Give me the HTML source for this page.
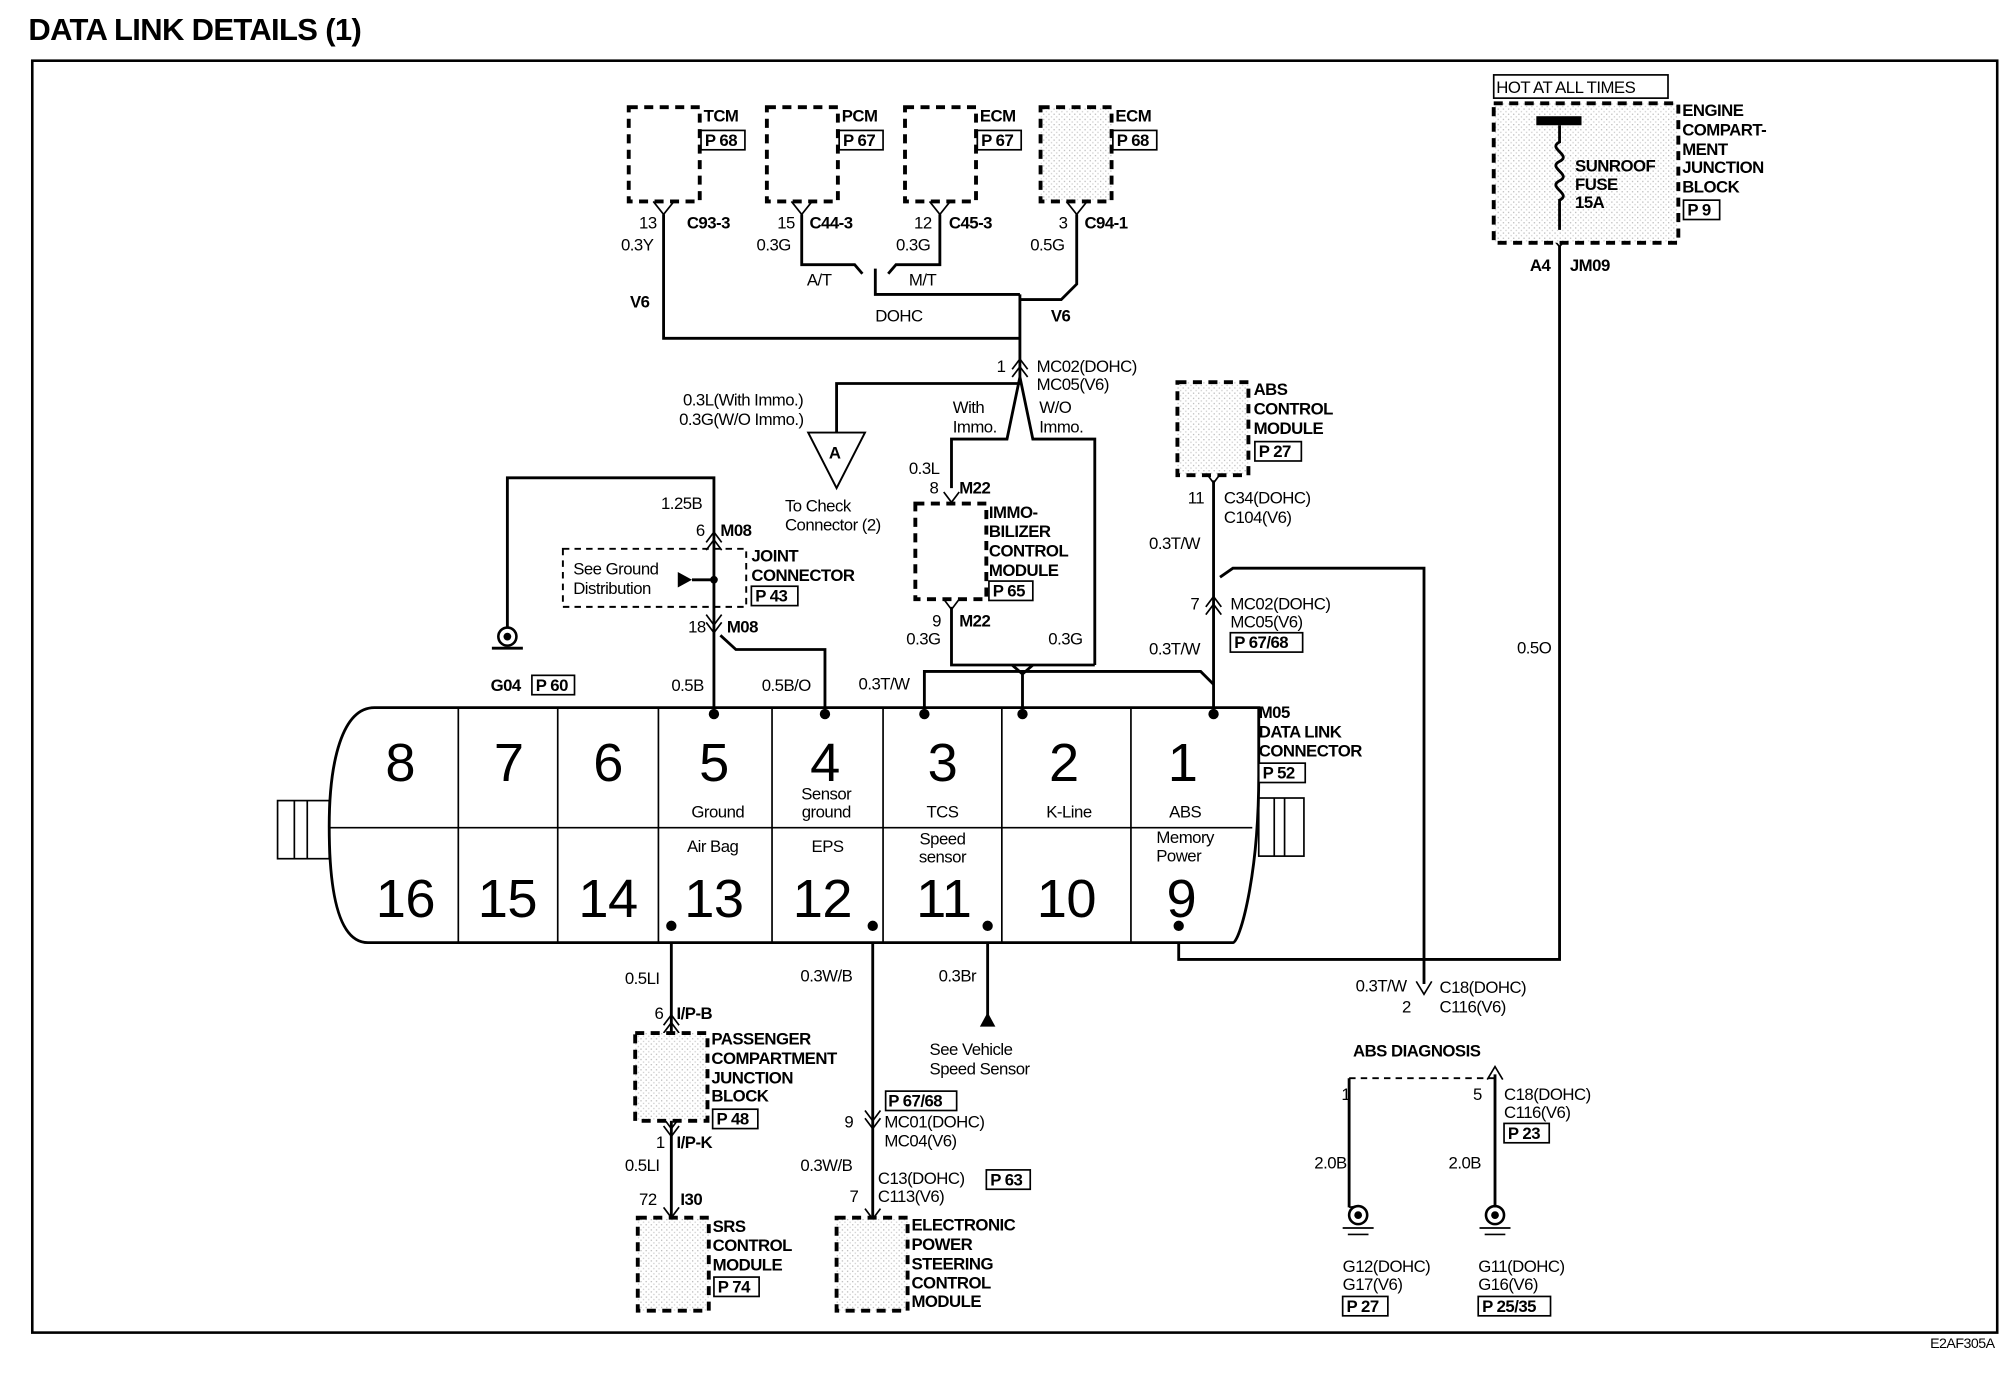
<!DOCTYPE html>
<html><head><meta charset="utf-8"><style>
html,body{margin:0;padding:0;background:#fff}
svg{display:block}
text{font-family:"Liberation Sans",Arial,sans-serif;font-size:13px;fill:#000;letter-spacing:-0.4px}
.b{font-weight:bold}
.big{font-size:40px;letter-spacing:0}
.sm{font-size:11px}
.w{stroke:#000;stroke-width:2.2;fill:none}
.t{stroke:#000;stroke-width:1.3;fill:none}
.d{stroke:#000;stroke-width:3;fill:none;stroke-dasharray:7 5}
.dl{stroke:#000;stroke-width:1.5;fill:none;stroke-dasharray:5 4}
.pb{fill:#fff;stroke:#000;stroke-width:1.3}
</style></head><body>
<svg width="2014" height="1392" viewBox="0 0 1560 1078" preserveAspectRatio="none" xmlns="http://www.w3.org/2000/svg">
<defs>
<pattern id="st" width="4" height="4" patternUnits="userSpaceOnUse"><rect width="4" height="4" fill="#fff"/><rect width="1" height="1" fill="#bbb"/><rect x="2" y="2" width="1" height="1" fill="#ccc"/></pattern>
</defs>
<text x="22" y="31" class="b" style="font-size:24px;letter-spacing:-0.5px">DATA LINK DETAILS (1)</text>
<rect x="25" y="47" width="1522" height="985" fill="none" stroke="#000" stroke-width="2"/>

<!-- top modules -->
<rect x="487" y="83" width="55" height="73" class="d" fill="#fff"/>
<rect x="594" y="83" width="55" height="73" class="d"/>
<rect x="701" y="83" width="55" height="73" class="d"/>
<rect x="806" y="83" width="55" height="73" class="d" style="fill:url(#st)"/>
<text x="545" y="94" class="b">TCM</text><rect x="543" y="101" width="34" height="15" class="pb"/><text x="546" y="113" class="b">P 68</text>
<text x="652" y="94" class="b">PCM</text><rect x="650" y="101" width="34" height="15" class="pb"/><text x="653" y="113" class="b">P 67</text>
<text x="759" y="94" class="b">ECM</text><rect x="757" y="101" width="34" height="15" class="pb"/><text x="760" y="113" class="b">P 67</text>
<text x="864" y="94" class="b">ECM</text><rect x="862" y="101" width="34" height="15" class="pb"/><text x="865" y="113" class="b">P 68</text>
<g class="t">
<path d="M506 156 L514 166 L522 156 M613 156 L621 166 L629 156 M720 156 L728 166 L736 156 M826 156 L834 166 L842 156"/>
</g>
<g class="w">
<path d="M514 166 V262 H790"/>
<path d="M621 166 V205 H662 L668 212 M728 166 V205 H694 L688 212"/>
<path d="M678 208 V228 H790"/>
<path d="M834 166 V220 L822 232 H790"/>
<path d="M790 228 V292"/>
<path d="M790 297 H648 V335"/>
<path d="M790 292 L780 340 H737 V378"/>
<path d="M790 292 L800 340 H848 V515"/>
<path d="M737 470 V515 H848"/>
<path d="M784 515 L792 522 L800 515 M792 522 V553"/>
<path d="M716 553 V520 H930 L940 530"/>
<path d="M940 372 V553"/>
<path d="M945 447 L955 440 H1103 V762"/>
<path d="M1208 190 V743 H913 V717"/>
<path d="M393 488 V370 H553 V553"/>
<path d="M558 492 L570 503 H639 V553"/>
<path d="M520 717 V1000"/>
<path d="M676 717 V943"/>
<path d="M765 717 V790"/>
<path d="M1045 835 V935 M1158 832 V935"/>
</g>
<path d="M1097 760 L1103 770 L1109 760" class="t"/>
<path d="M759 795 L765 784 L771 795 Z" fill="#000"/>
<path d="M1152 836 L1158 826 L1164 836" class="t"/>
<!-- chevrons -->
<g class="t">
<path d="M784 286 L790 278 L796 286 M784 292 L790 284 L796 292"/>
<path d="M934 470 L940 462 L946 470 M934 476 L940 468 L946 476"/>
<path d="M547 420 L553 412 L559 420 M547 426 L553 418 L559 426"/>
<path d="M547 476 L553 484 L559 476 M547 482 L553 490 L559 482"/>
<path d="M731 381 L737 389 L743 381 M731 464 L737 472 L743 464"/>
<path d="M934 366 L940 374 L946 366"/>
<path d="M1202 178 L1208 185 L1214 178 M1202 184 L1208 191 L1214 184"/>
<path d="M514 794 L520 786 L526 794 M514 800 L520 792 L526 800"/>
<path d="M514 866 L520 874 L526 866 M514 872 L520 880 L526 872"/>
<path d="M670 860 L676 868 L682 860 M670 866 L676 874 L682 866"/>
<path d="M670 936 L676 944 L682 936"/>
<path d="M514 935 L520 943 L526 935"/>
</g>
<text x="495" y="177">13</text><text x="532" y="177" class="b">C93-3</text><text x="481" y="194">0.3Y</text><text x="488" y="238" class="b">V6</text>
<text x="602" y="177">15</text><text x="627" y="177" class="b">C44-3</text><text x="586" y="194">0.3G</text>
<text x="708" y="177">12</text><text x="735" y="177" class="b">C45-3</text><text x="694" y="194">0.3G</text>
<text x="820" y="177">3</text><text x="840" y="177" class="b">C94-1</text><text x="798" y="194">0.5G</text>
<text x="625" y="221">A/T</text><text x="704" y="221">M/T</text><text x="678" y="249">DOHC</text><text x="814" y="249" class="b">V6</text>
<text x="772" y="288">1</text><text x="803" y="288">MC02(DOHC)</text><text x="803" y="302">MC05(V6)</text>
<text x="529" y="314">0.3L(With Immo.)</text><text x="526" y="329">0.3G(W/O Immo.)</text>
<path d="M626 335 H670 L648 378 Z" fill="#fff" stroke="#000" stroke-width="1.5"/><text x="642" y="355" class="b">A</text>
<text x="608" y="396">To Check</text><text x="608" y="411">Connector (2)</text>
<text x="738" y="320">With</text><text x="738" y="335">Immo.</text><text x="805" y="320">W/O</text><text x="805" y="335">Immo.</text>
<text x="704" y="367">0.3L</text><text x="720" y="382">8</text><text x="743" y="382" class="b">M22</text>
<rect x="709" y="390" width="55" height="74" class="d"/>
<text x="766" y="401" class="b">IMMO-</text><text x="766" y="416" class="b">BILIZER</text><text x="766" y="431" class="b">CONTROL</text><text x="766" y="446" class="b">MODULE</text>
<rect x="766" y="450" width="34" height="15" class="pb"/><text x="769" y="462" class="b">P 65</text>
<text x="722" y="485">9</text><text x="743" y="485" class="b">M22</text><text x="702" y="499">0.3G</text><text x="812" y="499">0.3G</text>

<rect x="912" y="296" width="55" height="72" class="d" style="fill:url(#st)"/>
<text x="971" y="306" class="b">ABS</text><text x="971" y="321" class="b">CONTROL</text><text x="971" y="336" class="b">MODULE</text>
<rect x="972" y="342" width="36" height="15" class="pb"/><text x="975" y="354" class="b">P 27</text>
<text x="920" y="390">11</text><text x="948" y="390">C34(DOHC)</text><text x="948" y="405">C104(V6)</text>
<text x="890" y="425">0.3T/W</text><text x="922" y="472">7</text><text x="953" y="472">MC02(DOHC)</text><text x="953" y="486">MC05(V6)</text>
<rect x="953" y="490" width="56" height="15" class="pb"/><text x="956" y="502" class="b">P 67/68</text>
<text x="890" y="507">0.3T/W</text><text x="665" y="534">0.3T/W</text>

<!-- fuse -->
<rect x="1157" y="58" width="135" height="18" class="pb"/><text x="1159" y="72">HOT AT ALL TIMES</text>
<rect x="1157" y="80" width="143" height="108" class="d" style="fill:url(#st)"/>
<rect x="1190" y="90" width="35" height="7" fill="#000"/>
<path d="M1208 97 V110 C1198 115 1218 120 1208 125 C1198 130 1218 135 1208 140 C1198 145 1218 150 1208 155 V178" class="w"/>
<text x="1220" y="133" class="b">SUNROOF</text><text x="1220" y="147" class="b">FUSE</text><text x="1220" y="161" class="b">15A</text>
<text x="1303" y="90" class="b">ENGINE</text><text x="1303" y="105" class="b">COMPART-</text><text x="1303" y="120" class="b">MENT</text><text x="1303" y="134" class="b">JUNCTION</text><text x="1303" y="149" class="b">BLOCK</text>
<rect x="1304" y="155" width="28" height="15" class="pb"/><text x="1307" y="167" class="b">P 9</text>
<text x="1185" y="210" class="b">A4</text><text x="1216" y="210" class="b">JM09</text><text x="1175" y="506">0.5O</text>

<!-- ground G04 + joint -->
<circle cx="393" cy="493" r="7" fill="#fff" stroke="#000" stroke-width="2"/><circle cx="393" cy="493" r="3" fill="#000"/>
<path d="M381 502 H405" class="w"/>
<text x="380" y="535" class="b">G04</text><rect x="412" y="523" width="33" height="15" class="pb"/><text x="415" y="535" class="b">P 60</text>
<text x="512" y="394">1.25B</text><text x="539" y="415">6</text><text x="558" y="415" class="b">M08</text>
<rect x="436" y="425" width="142" height="45" class="dl"/>
<text x="444" y="445">See Ground</text><text x="444" y="460">Distribution</text>
<path d="M525 443 L536 449 L525 455 Z" fill="#000"/><path d="M536 449 H553" class="w"/><circle cx="553" cy="449" r="3" fill="#000"/>
<text x="582" y="435" class="b">JOINT</text><text x="582" y="450" class="b">CONNECTOR</text>
<rect x="582" y="454" width="36" height="15" class="pb"/><text x="585" y="466" class="b">P 43</text>
<text x="533" y="490">18</text><text x="563" y="490" class="b">M08</text>
<text x="520" y="535">0.5B</text><text x="590" y="535">0.5B/O</text>

<!-- DLC -->
<rect x="215" y="620" width="40" height="45" class="pb"/><path d="M228 620 V665 M238 620 V665" class="t"/>
<rect x="975" y="618" width="35" height="45" class="pb"/><path d="M987 618 V663 M995 618 V663" class="t"/>
<path d="M290 548 H975 V600 C975 680 960 730 955 730 H285 C265 730 255 700 255 640 C255 590 265 548 290 548 Z" fill="#fff" stroke="#000" stroke-width="2.2"/>
<path d="M255 641 H970 M355 548 V730 M432 548 V730 M510 548 V730 M598 548 V730 M684 548 V730 M776 548 V730 M876 548 V730" class="t"/>
<g style="font-size:42px" text-anchor="middle">
<text x="310" y="605" style="font-size:42px">8</text><text x="394" y="605" style="font-size:42px">7</text><text x="471" y="605" style="font-size:42px">6</text><text x="553" y="605" style="font-size:42px">5</text><text x="639" y="605" style="font-size:42px">4</text><text x="730" y="605" style="font-size:42px">3</text><text x="824" y="605" style="font-size:42px">2</text><text x="916" y="605" style="font-size:42px">1</text>
<text x="314" y="710" style="font-size:42px">16</text><text x="393" y="710" style="font-size:42px">15</text><text x="471" y="710" style="font-size:42px">14</text><text x="553" y="710" style="font-size:42px">13</text><text x="637" y="710" style="font-size:42px">12</text><text x="731" y="710" style="font-size:42px">11</text><text x="826" y="710" style="font-size:42px">10</text><text x="915" y="710" style="font-size:42px">9</text>
</g>
<g text-anchor="middle">
<text x="556" y="633">Ground</text><text x="640" y="619">Sensor</text><text x="640" y="633">ground</text><text x="730" y="633">TCS</text><text x="828" y="633">K-Line</text><text x="918" y="633">ABS</text>
<text x="552" y="660">Air Bag</text><text x="641" y="660">EPS</text><text x="730" y="654">Speed</text><text x="730" y="668">sensor</text><text x="918" y="653">Memory</text><text x="913" y="667">Power</text>
</g>
<g fill="#000"><circle cx="553" cy="553" r="4"/><circle cx="639" cy="553" r="4"/><circle cx="716" cy="553" r="4"/><circle cx="792" cy="553" r="4"/><circle cx="940" cy="553" r="4"/>
<circle cx="520" cy="717" r="4"/><circle cx="676" cy="717" r="4"/><circle cx="765" cy="717" r="4"/><circle cx="913" cy="717" r="4"/></g>
<text x="975" y="556" class="b">M05</text><text x="975" y="571" class="b">DATA LINK</text><text x="975" y="586" class="b">CONNECTOR</text>
<rect x="975" y="591" width="36" height="15" class="pb"/><text x="978" y="603" class="b">P 52</text>

<!-- bottom left -->
<text x="484" y="762">0.5LI</text><text x="507" y="789">6</text><text x="524" y="789" class="b">I/P-B</text>
<rect x="492" y="800" width="56" height="68" class="d" style="fill:url(#st)"/>
<text x="551" y="809" class="b">PASSENGER</text><text x="551" y="824" class="b">COMPARTMENT</text><text x="551" y="839" class="b">JUNCTION</text><text x="551" y="853" class="b">BLOCK</text>
<rect x="552" y="859" width="35" height="15" class="pb"/><text x="555" y="871" class="b">P 48</text>
<text x="508" y="889">1</text><text x="524" y="889" class="b">I/P-K</text><text x="484" y="907">0.5LI</text>
<text x="495" y="933">72</text><text x="527" y="933" class="b">I30</text>
<rect x="494" y="943" width="55" height="72" class="d" style="fill:url(#st)"/>
<text x="552" y="954" class="b">SRS</text><text x="552" y="969" class="b">CONTROL</text><text x="552" y="984" class="b">MODULE</text>
<rect x="553" y="989" width="35" height="15" class="pb"/><text x="556" y="1001" class="b">P 74</text>

<text x="620" y="760">0.3W/B</text>
<rect x="686" y="845" width="55" height="15" class="pb"/><text x="688" y="857" class="b">P 67/68</text>
<text x="654" y="873">9</text><text x="685" y="873">MC01(DOHC)</text><text x="685" y="888">MC04(V6)</text>
<text x="620" y="907">0.3W/B</text><text x="680" y="917">C13(DOHC)</text><rect x="764" y="906" width="34" height="15" class="pb"/><text x="767" y="918" class="b">P 63</text>
<text x="658" y="931">7</text><text x="680" y="931">C113(V6)</text>
<rect x="648" y="943" width="55" height="72" class="d" style="fill:url(#st)"/>
<text x="706" y="953" class="b">ELECTRONIC</text><text x="706" y="968" class="b">POWER</text><text x="706" y="983" class="b">STEERING</text><text x="706" y="998" class="b">CONTROL</text><text x="706" y="1012" class="b">MODULE</text>
<text x="727" y="760">0.3Br</text><text x="720" y="817">See Vehicle</text><text x="720" y="832">Speed Sensor</text>

<!-- ABS diag -->
<text x="1050" y="768">0.3T/W</text><text x="1086" y="784">2</text><text x="1115" y="769">C18(DOHC)</text><text x="1115" y="784">C116(V6)</text>
<text x="1048" y="818" class="b">ABS DIAGNOSIS</text>
<path d="M1045 835 H1158" class="dl"/>
<text x="1039" y="852">1</text><text x="1018" y="905">2.0B</text>
<text x="1141" y="852">5</text><text x="1165" y="852">C18(DOHC)</text><text x="1165" y="866">C116(V6)</text>
<rect x="1165" y="870" width="35" height="15" class="pb"/><text x="1168" y="882" class="b">P 23</text>
<text x="1122" y="905">2.0B</text>
<g>
<circle cx="1052" cy="941" r="7" fill="#fff" stroke="#000" stroke-width="2"/><circle cx="1052" cy="941" r="3" fill="#000"/><path d="M1040 951 H1064 M1044 956 H1060" class="t"/>
<circle cx="1158" cy="941" r="7" fill="#fff" stroke="#000" stroke-width="2"/><circle cx="1158" cy="941" r="3" fill="#000"/><path d="M1146 951 H1170 M1150 956 H1166" class="t"/>
</g>
<path d="M1045 935 L1052 934 M1158 935 V934" class="t"/>
<text x="1040" y="985">G12(DOHC)</text><text x="1040" y="999">G17(V6)</text>
<rect x="1040" y="1004" width="35" height="15" class="pb"/><text x="1043" y="1016" class="b">P 27</text>
<text x="1145" y="985">G11(DOHC)</text><text x="1145" y="999">G16(V6)</text>
<rect x="1145" y="1004" width="56" height="15" class="pb"/><text x="1148" y="1016" class="b">P 25/35</text>
<text x="1495" y="1044" class="sm">E2AF305A</text>
</svg>
</body></html>
